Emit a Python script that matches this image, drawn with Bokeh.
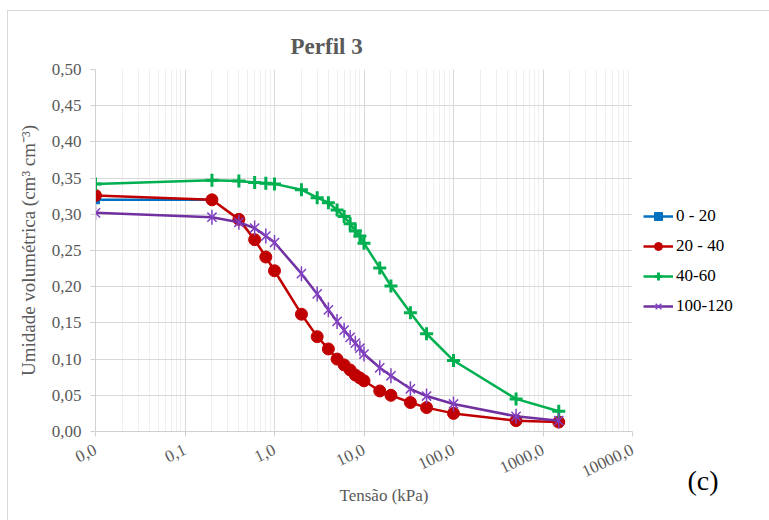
import numpy as np
from bokeh.plotting import figure
from bokeh.models import FixedTicker, Legend, LegendItem, Range1d, Title
from bokeh.embed import file_html
from bokeh.resources import INLINE

# ---- data ----
tensao = [0.01, 0.2, 0.4, 0.6, 0.8, 1, 2, 3, 4, 5, 6, 7, 8, 9, 10, 15, 20, 33, 50, 100, 500, 1500]
tensao_0_20 = [0.01, 0.2]
theta_0_20 = [0.320, 0.320]
theta_20_40 = [0.326, 0.320, 0.293, 0.265, 0.241, 0.222, 0.162, 0.131, 0.114, 0.100, 0.092,
               0.085, 0.078, 0.074, 0.070, 0.056, 0.050, 0.040, 0.033, 0.025, 0.015, 0.013]
theta_40_60 = [0.342, 0.347, 0.346, 0.344, 0.343, 0.342, 0.334, 0.323, 0.316, 0.306, 0.297,
               0.287, 0.277, 0.270, 0.260, 0.226, 0.201, 0.164, 0.135, 0.098, 0.045, 0.028]
theta_100_120 = [0.302, 0.296, 0.289, 0.281, 0.270, 0.261, 0.218, 0.190, 0.168, 0.152, 0.140,
                 0.130, 0.122, 0.115, 0.107, 0.088, 0.077, 0.059, 0.049, 0.038, 0.021, 0.015]

x_ticks = [0.01, 0.1, 1, 10, 100, 1000, 10000]
x_tick_labels = ["0,0", "0,1", "1,0", "10,0", "100,0", "1000,0", "10000,0"]
y_ticks = [0.0, 0.05, 0.10, 0.15, 0.20, 0.25, 0.30, 0.35, 0.40, 0.45, 0.50]
y_tick_labels = ["0,00", "0,05", "0,10", "0,15", "0,20", "0,25", "0,30", "0,35", "0,40", "0,45", "0,50"]

series_names = ["0 - 20", "20 - 40", "40-60", "100-120"]
colors = ["#0070C0", "#C00000", "#00B050", "#7030A0"]

FONT = "Liberation Serif"
TXT = "#595959"

p = figure(frame_width=537, frame_height=362,
           min_border_left=87, min_border_right=138, min_border_top=58, min_border_bottom=90,
           x_axis_type="log", x_range=Range1d(0.01, 10000), y_range=Range1d(0, 0.5),
           output_backend="svg", toolbar_location=None,
           margin=(10, 0, 0, 7), styles={"border": "1px solid #d9d9d9"})
p.outline_line_color = None
p.background_fill_color = "white"
p.border_fill_color = "white"

p.title.text = "Perfil 3"
p.title.align = "left"
p.title.offset = 195
p.title.standoff = 21
p.title.text_font = FONT
p.title.text_font_size = "23px"
p.title.text_font_style = "bold"
p.title.text_color = TXT

minor = [k * 10.0 ** e for e in range(-2, 4) for k in range(2, 10)]
p.xaxis.ticker = FixedTicker(ticks=x_ticks, minor_ticks=minor)
p.xaxis.major_label_overrides = {t: l for t, l in zip(x_ticks, x_tick_labels)}
p.yaxis.ticker = FixedTicker(ticks=y_ticks)
p.yaxis.major_label_overrides = {t: l for t, l in zip(y_ticks, y_tick_labels)}

for ax in (p.xaxis[0], p.yaxis[0]):
    ax.major_label_text_font = FONT
    ax.major_label_text_font_size = "17px"
    ax.major_label_text_color = TXT
    ax.axis_line_color = "#d0d0d0"
    ax.major_tick_line_color = "#d0d0d0"
    ax.major_tick_out = 5
    ax.major_tick_in = 0
    ax.minor_tick_out = 0
    ax.minor_tick_in = 0
    ax.axis_label_text_font = FONT
    ax.axis_label_text_font_style = "normal"
    ax.axis_label_text_color = TXT
p.xaxis.major_label_orientation = 0.45
p.xaxis.major_label_standoff = 12
p.yaxis.major_label_standoff = 9
p.yaxis.axis_label = "Umidade volumétrica (cm³ cm⁻³)"
p.yaxis.axis_label_text_font_size = "19px"
p.yaxis.axis_label_standoff = 10

p.xgrid.grid_line_color = "#d9d9d9"
p.xgrid.minor_grid_line_color = "#efefef"
p.ygrid.grid_line_color = "#d9d9d9"

items = []
# 0 - 20
l0 = p.line(tensao_0_20, theta_0_20, line_color=colors[0], line_width=2.5)
m0 = p.scatter(tensao_0_20, theta_0_20, marker="square", size=8, fill_color=colors[0], line_color=colors[0])
items.append(LegendItem(label=series_names[0], renderers=[l0, m0]))
# 20 - 40
l1 = p.line(tensao, theta_20_40, line_color=colors[1], line_width=2.5)
m1 = p.scatter(tensao, theta_20_40, marker="circle", size=12, fill_color=colors[1], line_color=colors[1])
items.append(LegendItem(label=series_names[1], renderers=[l1, m1]))
# 40-60
l2 = p.line(tensao, theta_40_60, line_color=colors[2], line_width=2.5)
m2 = p.scatter(tensao, theta_40_60, marker="cross", size=13, line_color=colors[2], line_width=3)
items.append(LegendItem(label=series_names[2], renderers=[l2, m2]))
# 100-120
l3 = p.line(tensao, theta_100_120, line_color=colors[3], line_width=2.5)
m3 = p.scatter(tensao, theta_100_120, marker="x", size=13, line_color="#8040C0", line_width=1.5)
m3b = p.scatter(tensao, theta_100_120, marker="dash", angle=np.pi / 2, size=15, line_color="#8040C0", line_width=1.5)
items.append(LegendItem(label=series_names[3], renderers=[l3, m3, m3b]))

legend = Legend(items=items, location=(11, 115), orientation="vertical",
                glyph_width=30, glyph_height=20, label_height=20, spacing=10,
                label_standoff=3, padding=0, margin=0, border_line_color=None,
                background_fill_alpha=0,
                label_text_font=FONT, label_text_font_size="17px", label_text_color="black")
p.add_layout(legend, "right")

t_c = Title(text="(c)", align="right", offset=-86, standoff=-41, vertical_align="top",
            text_font=FONT, text_font_size="28px", text_font_style="normal", text_color="black")
t_x = Title(text="Tensão (kPa)", align="left", offset=244, standoff=-3,
            text_font=FONT, text_font_size="17px", text_font_style="normal", text_color=TXT)
p.add_layout(t_c, "below")
p.add_layout(t_x, "below")

open("out.html", "w").write(file_html(p, INLINE))
